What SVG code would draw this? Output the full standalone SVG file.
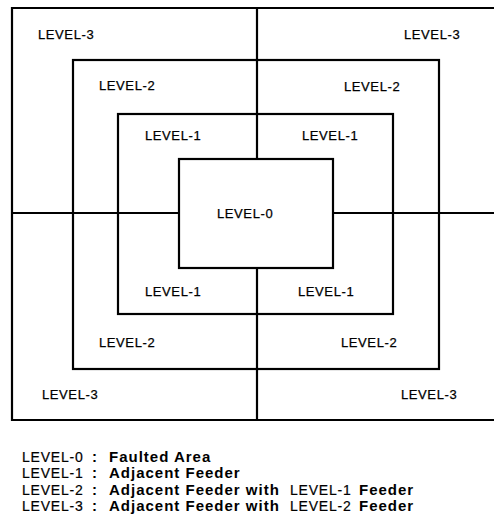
<svg xmlns="http://www.w3.org/2000/svg" width="494" height="529" viewBox="0 0 494 529">
<style>
.b{fill:none;stroke:#000;stroke-width:2.2}
.l{font-family:"Liberation Sans",Arial,sans-serif;font-size:13px;letter-spacing:0.6px;fill:#000;stroke:#000;stroke-width:0.25}
.g{font-family:"Liberation Sans",Arial,sans-serif;font-size:14px;fill:#000}
.n{letter-spacing:0.8px;stroke:#000;stroke-width:0.2}
.d{font-weight:bold;font-size:15px;letter-spacing:1px}
</style>
<rect width="494" height="529" fill="#fff"/>
<g id="level-3"><path class="b" d="M494,8 H12 V420 H494"/>
<text class="l" x="38" y="39">LEVEL-3</text><text class="l" x="404" y="39">LEVEL-3</text>
<text class="l" x="42" y="399">LEVEL-3</text><text class="l" x="401" y="399">LEVEL-3</text></g>
<g id="level-2"><rect class="b" x="73" y="60" width="366" height="309"/>
<text class="l" x="99" y="90">LEVEL-2</text><text class="l" x="344" y="91">LEVEL-2</text>
<text class="l" x="99" y="347">LEVEL-2</text><text class="l" x="341" y="347">LEVEL-2</text></g>
<g id="level-1"><rect class="b" x="118" y="114" width="275" height="200"/>
<text class="l" x="145" y="140">LEVEL-1</text><text class="l" x="302" y="140">LEVEL-1</text>
<text class="l" x="145" y="296">LEVEL-1</text><text class="l" x="298" y="296">LEVEL-1</text></g>
<g id="level-0"><rect class="b" x="179" y="159" width="154" height="109"/>
<text class="l" x="217" y="218">LEVEL-0</text></g>
<g id="connectors"><path class="b" d="M257,8 V159 M257,268 V420 M12,213 H179 M333,213 H494"/></g>
<g id="legend">
<text class="g" y="462"><tspan class="n" x="22">LEVEL-0</tspan><tspan class="d" x="92">:</tspan><tspan class="d" x="109">Faulted Area</tspan></text>
<text class="g" y="478"><tspan class="n" x="22">LEVEL-1</tspan><tspan class="d" x="92">:</tspan><tspan class="d" x="109">Adjacent Feeder</tspan></text>
<text class="g" y="495"><tspan class="n" x="22">LEVEL-2</tspan><tspan class="d" x="92">:</tspan><tspan class="d" x="109">Adjacent Feeder with</tspan><tspan class="n" x="290">LEVEL-1</tspan><tspan class="d" x="359">Feeder</tspan></text>
<text class="g" y="511"><tspan class="n" x="22">LEVEL-3</tspan><tspan class="d" x="92">:</tspan><tspan class="d" x="109">Adjacent Feeder with</tspan><tspan class="n" x="290">LEVEL-2</tspan><tspan class="d" x="359">Feeder</tspan></text>
</g>
</svg>
